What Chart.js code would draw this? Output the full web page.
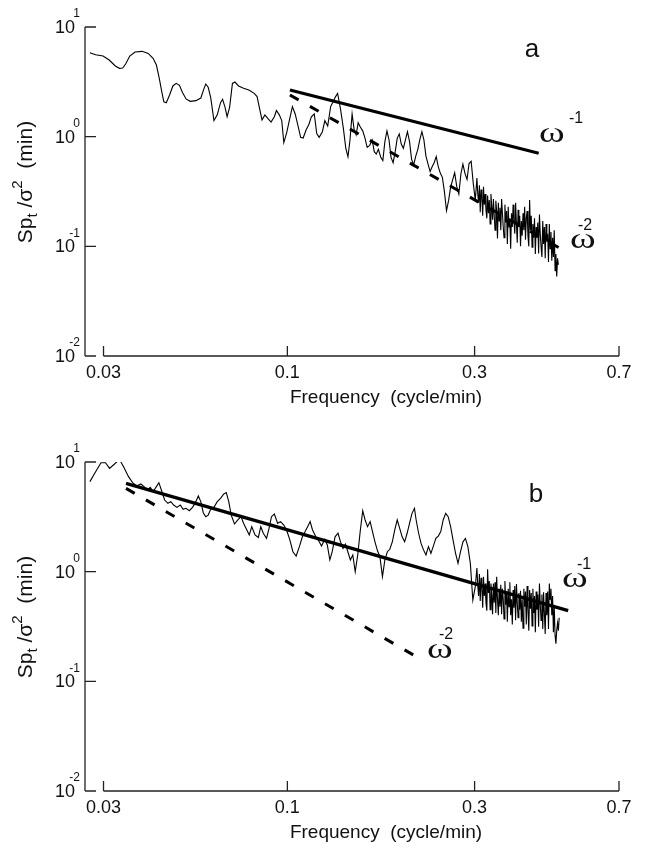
<!DOCTYPE html>
<html>
<head>
<meta charset="utf-8">
<script src="https://cdn.jsdelivr.net/npm/chart.js@4.4.0/dist/chart.umd.min.js"></script>
<style>
  html, body { margin: 0; padding: 0; background: #fff; overflow: hidden; }
  #wrap { position: relative; width: 645px; height: 848px; }
  canvas { position: absolute; left: 0; }
  #chartA { top: 0; }
  #chartB { top: 435px; }
</style>
</head>
<body>
<div id="wrap">
  <canvas id="chartA" width="645" height="424"></canvas>
  <canvas id="chartB" width="645" height="424"></canvas>
</div>
<script>
// tick values (x ticks are rounded to 2 decimals when shown)
const freqTicks = [0.034, 0.1, 0.3, 0.7];
const specTicks = [10, 1, 0.1, 0.01];
const specTickExp = ['1', '0', '-1', '-2'];

// panel a: spectrum
const freqA = [
  0.03139, 0.03246, 0.03391, 0.03515, 0.03644, 0.03733, 0.03805, 0.03871, 0.03966, 0.04092,
  0.04263, 0.04419, 0.04548, 0.04637, 0.04716, 0.04785, 0.04844, 0.04914, 0.05010, 0.05108,
  0.05208, 0.05309, 0.05400, 0.05519, 0.05654, 0.05847, 0.06019, 0.06121, 0.06194, 0.06284,
  0.06376, 0.06500, 0.06627, 0.06756, 0.06838, 0.06938, 0.07022, 0.07125, 0.07244, 0.07350,
  0.07511, 0.07732, 0.07977, 0.08231, 0.08372, 0.08493, 0.08617, 0.08765, 0.08914, 0.09088,
  0.09264, 0.09378, 0.09537, 0.09676, 0.09793, 0.09961, 0.1013, 0.1030, 0.1047, 0.1063,
  0.1081, 0.1097, 0.1116, 0.1135, 0.1151, 0.1171, 0.1188, 0.1205, 0.1228, 0.1246,
  0.1267, 0.1289, 0.1308, 0.1327, 0.1343, 0.1366, 0.1389, 0.1409, 0.1427, 0.1444,
  0.1462, 0.1479, 0.1497, 0.1515, 0.1533, 0.1556, 0.1575, 0.1597, 0.1621, 0.1645,
  0.1665, 0.1685, 0.1706, 0.1730, 0.1751, 0.1772, 0.1794, 0.1816, 0.1837, 0.1860,
  0.1883, 0.1905, 0.1928, 0.1951, 0.1975, 0.1999, 0.2023, 0.2048, 0.2073, 0.2098,
  0.2124, 0.2150, 0.2176, 0.2202, 0.2228, 0.2255, 0.2283, 0.2311, 0.2338, 0.2366,
  0.2395, 0.2424, 0.2454, 0.2483, 0.2513, 0.2544, 0.2575, 0.2606, 0.2637, 0.2669,
  0.2702, 0.2735, 0.2768, 0.2801, 0.2835, 0.2870, 0.2904, 0.2940, 0.2975, 0.3012,
  0.3041, 0.3056, 0.3071, 0.3086, 0.3101, 0.3116, 0.3131, 0.3146, 0.3161, 0.3176,
  0.3192, 0.3207, 0.3223, 0.3238, 0.3254, 0.3270, 0.3286, 0.3302, 0.3318, 0.3334,
  0.3350, 0.3366, 0.3382, 0.3398, 0.3415, 0.3431, 0.3448, 0.3465, 0.3482, 0.3498,
  0.3515, 0.3532, 0.3549, 0.3566, 0.3584, 0.3601, 0.3619, 0.3636, 0.3654, 0.3671,
  0.3689, 0.3707, 0.3725, 0.3743, 0.3761, 0.3779, 0.3798, 0.3816, 0.3835, 0.3853,
  0.3872, 0.3890, 0.3909, 0.3928, 0.3947, 0.3966, 0.3986, 0.4005, 0.4024, 0.4044,
  0.4063, 0.4083, 0.4103, 0.4123, 0.4143, 0.4163, 0.4183, 0.4203, 0.4223, 0.4244,
  0.4264, 0.4285, 0.4305, 0.4326, 0.4347, 0.4368, 0.4389, 0.4410, 0.4432, 0.4453,
  0.4475, 0.4496, 0.4518, 0.4540, 0.4562, 0.4584, 0.4606, 0.4628, 0.4651, 0.4673,
  0.4696, 0.4719, 0.4741, 0.4764, 0.4787, 0.4811, 0.4834, 0.4857, 0.4881, 0.4905
];
const spectrumA = [
  5.83, 5.59, 5.44, 5.00, 4.41, 4.20, 4.23, 4.60, 5.44, 5.92,
  6.00, 5.75, 5.18, 4.50, 3.40, 2.57, 2.08, 2.04, 2.40, 2.90,
  3.06, 2.94, 2.54, 2.21, 2.10, 2.13, 2.25, 2.70, 3.02, 2.82,
  2.28, 1.40, 1.58, 2.04, 2.19, 1.85, 1.52, 1.85, 3.06, 3.15,
  2.90, 2.76, 2.66, 2.48, 2.32, 1.81, 1.42, 1.58, 1.47, 1.36,
  1.52, 1.73, 1.58, 1.40, 0.882, 1.09, 1.44, 1.88, 1.61, 1.28,
  0.986, 0.972, 1.15, 1.30, 1.52, 1.61, 1.07, 0.986, 1.11, 1.40,
  1.25, 1.88, 2.08, 2.32, 2.48, 1.78, 1.19, 0.783, 0.657, 0.933,
  1.61, 1.17, 1.04, 1.34, 1.23, 1.13, 0.986, 0.799, 0.834, 0.933,
  0.730, 0.695, 0.766, 0.648, 0.604, 0.900, 1.13, 0.933, 0.648, 0.579,
  0.730, 0.966, 1.06, 0.857, 0.783, 0.933, 1.11, 0.900, 0.621, 0.552,
  0.666, 0.766, 0.946, 1.11, 0.933, 0.666, 0.563, 0.480, 0.532, 0.579,
  0.657, 0.532, 0.463, 0.426, 0.315, 0.211, 0.261, 0.345, 0.403, 0.469,
  0.350, 0.300, 0.457, 0.563, 0.463, 0.408, 0.569, 0.596, 0.381, 0.264,
  0.420, 0.300, 0.250, 0.360, 0.205, 0.330, 0.280, 0.190, 0.350, 0.240,
  0.300, 0.215, 0.180, 0.290, 0.200, 0.265, 0.160, 0.300, 0.230, 0.175,
  0.270, 0.190, 0.140, 0.260, 0.210, 0.118, 0.250, 0.170, 0.225, 0.140,
  0.270, 0.200, 0.150, 0.120, 0.240, 0.165, 0.210, 0.105, 0.230, 0.150,
  0.180, 0.095, 0.200, 0.150, 0.240, 0.170, 0.130, 0.250, 0.160, 0.108,
  0.215, 0.150, 0.190, 0.100, 0.170, 0.125, 0.200, 0.140, 0.230, 0.115,
  0.180, 0.210, 0.125, 0.100, 0.265, 0.140, 0.190, 0.098, 0.160, 0.120,
  0.180, 0.085, 0.150, 0.120, 0.165, 0.086, 0.195, 0.130, 0.098, 0.080,
  0.170, 0.105, 0.150, 0.078, 0.160, 0.110, 0.130, 0.072, 0.160, 0.095,
  0.135, 0.074, 0.120, 0.080, 0.140, 0.060, 0.085, 0.0530, 0.0777, 0.0680
];
// panel a: reference slopes
const slope1FreqA = [0.1015, 0.437];
const slope1SpecA = [2.66, 0.705];
const slope2FreqA = [0.1015, 0.495];
const slope2SpecA = [2.40, 0.0960];

// panel b: spectrum
const freqB = [
  0.03139, 0.03246, 0.03350, 0.03440, 0.03523, 0.03627, 0.03733, 0.03825, 0.03937, 0.04033,
  0.04131, 0.04232, 0.04314, 0.04398, 0.04473, 0.04549, 0.04637, 0.04705, 0.04774, 0.04867,
  0.04962, 0.05046, 0.05132, 0.05232, 0.05334, 0.05425, 0.05517, 0.05624, 0.05733, 0.05845,
  0.05930, 0.06017, 0.06105, 0.06194, 0.06284, 0.06376, 0.06500, 0.06627, 0.06756, 0.06887,
  0.06988, 0.07090, 0.07193, 0.07333, 0.07476, 0.07622, 0.07732, 0.07883, 0.07997, 0.08114,
  0.08272, 0.08433, 0.08556, 0.08681, 0.08850, 0.08979, 0.09110, 0.09265, 0.09445, 0.09606,
  0.09793, 0.09984, 0.1015, 0.1033, 0.1053, 0.1073, 0.1092, 0.1110, 0.1126, 0.1143,
  0.1159, 0.1182, 0.1202, 0.1222, 0.1246, 0.1264, 0.1283, 0.1301, 0.1323, 0.1346,
  0.1366, 0.1386, 0.1406, 0.1426, 0.1447, 0.1468, 0.1489, 0.1511, 0.1533, 0.1556,
  0.1578, 0.1601, 0.1625, 0.1648, 0.1672, 0.1697, 0.1721, 0.1747, 0.1772, 0.1798,
  0.1824, 0.1851, 0.1878, 0.1905, 0.1933, 0.1961, 0.1990, 0.2019, 0.2048, 0.2078,
  0.2108, 0.2129, 0.2160, 0.2191, 0.2223, 0.2255, 0.2288, 0.2322, 0.2355, 0.2390,
  0.2424, 0.2460, 0.2495, 0.2532, 0.2569, 0.2606, 0.2644, 0.2683, 0.2722, 0.2762,
  0.2802, 0.2843, 0.2884, 0.2926, 0.2969, 0.3012,
  0.3041, 0.3056, 0.3071, 0.3086, 0.3101, 0.3116, 0.3131, 0.3146, 0.3161, 0.3176,
  0.3192, 0.3207, 0.3223, 0.3238, 0.3254, 0.3270, 0.3286, 0.3302, 0.3318, 0.3334,
  0.3350, 0.3366, 0.3382, 0.3398, 0.3415, 0.3431, 0.3448, 0.3465, 0.3482, 0.3498,
  0.3515, 0.3532, 0.3549, 0.3566, 0.3584, 0.3601, 0.3619, 0.3636, 0.3654, 0.3671,
  0.3689, 0.3707, 0.3725, 0.3743, 0.3761, 0.3779, 0.3798, 0.3816, 0.3835, 0.3853,
  0.3872, 0.3890, 0.3909, 0.3928, 0.3947, 0.3966, 0.3986, 0.4005, 0.4024, 0.4044,
  0.4063, 0.4083, 0.4103, 0.4123, 0.4143, 0.4163, 0.4183, 0.4203, 0.4223, 0.4244,
  0.4264, 0.4285, 0.4305, 0.4326, 0.4347, 0.4368, 0.4389, 0.4410, 0.4432, 0.4453,
  0.4475, 0.4496, 0.4518, 0.4540, 0.4562, 0.4584, 0.4606, 0.4628, 0.4651, 0.4673,
  0.4696, 0.4719, 0.4741, 0.4764, 0.4787, 0.4811, 0.4834, 0.4857, 0.4881, 0.4905, 0.4928
];
const spectrumB = [
  6.62, 8.16, 9.85, 9.85, 8.75, 9.59, 10.55, 9.07, 7.35, 6.48,
  6.04, 6.30, 5.96, 5.56, 5.88, 5.37, 5.96, 6.48, 5.56, 4.50,
  4.20, 4.35, 4.05, 3.86, 4.05, 3.70, 3.78, 3.60, 3.86, 4.35,
  4.90, 4.35, 3.45, 3.17, 3.28, 3.70, 3.86, 4.35, 4.66, 5.11,
  5.26, 4.35, 3.28, 2.72, 2.96, 3.17, 2.76, 2.40, 2.16, 2.57,
  2.16, 2.05, 2.57, 2.24, 2.01, 2.48, 3.17, 3.35, 2.76, 2.86,
  2.66, 2.32, 1.94, 1.52, 1.39, 1.69, 2.08, 2.32, 2.57, 2.86,
  2.40, 2.08, 1.91, 1.71, 1.97, 1.75, 1.28, 1.52, 2.08, 2.24,
  1.87, 1.63, 1.78, 1.52, 1.28, 1.42, 0.999, 1.42, 2.32, 3.60,
  2.96, 2.57, 2.86, 2.32, 1.87, 1.55, 1.37, 0.900, 1.28, 1.52,
  1.60, 1.87, 2.40, 2.96, 2.48, 2.08, 1.87, 2.24, 2.76, 3.40,
  3.78, 2.96, 2.24, 1.81, 1.58, 1.42, 1.69, 1.47, 1.71, 2.01,
  2.11, 2.32, 2.96, 3.40, 3.17, 2.57, 1.94, 1.47, 1.19, 1.52,
  1.87, 2.01, 1.69, 1.19, 0.551, 0.730,
  1.08, 0.750, 0.600, 0.950, 0.540, 0.880, 0.700, 0.470, 0.900, 0.600,
  0.780, 0.520, 0.440, 1.05, 0.640, 0.820, 0.450, 0.780, 0.600, 0.410,
  0.780, 0.520, 0.800, 0.420, 0.900, 0.560, 0.400, 0.700, 0.480, 0.760,
  0.410, 0.700, 0.560, 0.370, 0.820, 0.500, 0.660, 0.350, 0.700, 0.480,
  0.800, 0.400, 0.560, 0.330, 0.680, 0.470, 0.740, 0.360, 0.770, 0.520,
  0.380, 0.640, 0.450, 0.670, 0.350, 0.560, 0.305, 0.700, 0.480, 0.660,
  0.330, 0.740, 0.450, 0.290, 0.680, 0.460, 0.640, 0.320, 0.700, 0.420,
  0.600, 0.280, 0.660, 0.450, 0.620, 0.315, 0.780, 0.500, 0.360, 0.620,
  0.300, 0.650, 0.420, 0.270, 0.640, 0.400, 0.660, 0.300, 0.780, 0.560,
  0.700, 0.400, 0.600, 0.280, 0.480, 0.260, 0.220, 0.290, 0.340, 0.290, 0.380
];
// panel b: reference slopes
const slope1FreqB = [0.0388, 0.5195];
const slope1SpecB = [6.38, 0.441];
const slope2FreqB = [0.0388, 0.2129];
const slope2SpecB = [5.75, 0.168];

const SANS = '"Liberation Sans", Arial, Helvetica, sans-serif';
const SERIF = '"Liberation Serif", "Times New Roman", serif';

function pts(xs, ys) {
  return xs.map((x, i) => ({ x: x, y: ys[i] }));
}

function fmtFreq(v) {
  return v < 0.1 ? v.toFixed(2) : String(v);
}

// axes, tick labels, titles and annotations drawn on top of the chart area
function axesPlugin(notes) {
  return {
    id: 'axes' + notes.letter,
    afterDraw(chart) {
      const ctx = chart.ctx;
      const xs = chart.scales.x, ys = chart.scales.y;
      const x0 = xs.left;
      const yTop = ys.getPixelForValue(specTicks[0]);
      const yBot = ys.getPixelForValue(specTicks[specTicks.length - 1]);
      ctx.save();
      ctx.strokeStyle = '#222';
      ctx.lineWidth = 1.3;
      ctx.beginPath();
      ctx.moveTo(x0, yTop);
      ctx.lineTo(x0, yBot);
      specTicks.forEach(v => {
        const y = ys.getPixelForValue(v);
        ctx.moveTo(x0, y);
        ctx.lineTo(x0 + 11, y);
      });
      const xa = xs.getPixelForValue(freqTicks[0]);
      const xb = xs.getPixelForValue(freqTicks[freqTicks.length - 1]);
      ctx.moveTo(xa, yBot);
      ctx.lineTo(xb, yBot);
      freqTicks.forEach(v => {
        const x = xs.getPixelForValue(v);
        ctx.moveTo(x, yBot);
        ctx.lineTo(x, yBot - 10);
      });
      ctx.stroke();

      ctx.fillStyle = '#111';
      // y tick labels 10^n
      ctx.textAlign = 'right';
      ctx.textBaseline = 'middle';
      specTicks.forEach((v, i) => {
        const y = ys.getPixelForValue(v);
        ctx.font = '18px ' + SANS;
        ctx.fillText('10', x0 - 10, y + 1);
        ctx.font = '12px ' + SANS;
        ctx.fillText(specTickExp[i], x0 - 5, y - 13);
      });
      // x tick labels
      ctx.textAlign = 'center';
      ctx.font = '18px ' + SANS;
      freqTicks.forEach(v => {
        ctx.fillText(fmtFreq(v), xs.getPixelForValue(v), yBot + 17);
      });
      // x title
      ctx.font = '19px ' + SANS;
      ctx.fillText('Frequency  (cycle/min)', 386, yBot + 42);

      // y title with sub/superscripts
      const big = '21px ' + SANS, small = '15px ' + SANS;
      const parts = [['Sp', big, 0], ['t', small, 5], [' /', big, 0], ['\u03c3', big, 0], ['2', small, -10], ['  (min)', big, 0]];
      ctx.save();
      ctx.translate(32, 182);
      ctx.rotate(-Math.PI / 2);
      ctx.textAlign = 'left';
      ctx.textBaseline = 'alphabetic';
      let w = 0;
      parts.forEach(p => { ctx.font = p[1]; w += ctx.measureText(p[0]).width; });
      let tx = -w / 2;
      parts.forEach(p => {
        ctx.font = p[1];
        ctx.fillText(p[0], tx, p[2]);
        tx += ctx.measureText(p[0]).width;
      });
      ctx.restore();

      // panel letter
      ctx.textAlign = 'center';
      ctx.textBaseline = 'alphabetic';
      ctx.font = '26px ' + SANS;
      ctx.fillText(notes.letter, notes.letterPos[0], notes.letterPos[1]);
      // omega labels (wide serif omega)
      ctx.textAlign = 'left';
      notes.omegas.forEach(o => {
        ctx.save();
        ctx.translate(o.w[0], o.w[1]);
        ctx.scale(1.3, 1);
        ctx.font = '30px ' + SERIF;
        ctx.fillText('\u03c9', 0, 0);
        ctx.restore();
        ctx.font = '16px ' + SANS;
        ctx.fillText(o.exp, o.e[0], o.e[1]);
      });
      ctx.restore();
    }
  };
}

function makePanel(id, spectrum, slope1, slope2, notes) {
  return new Chart(document.getElementById(id), {
    type: 'line',
    data: {
      datasets: [
        { data: slope1, borderColor: '#000', borderWidth: 3.2, pointRadius: 0 },
        { data: slope2, borderColor: '#000', borderWidth: 3, borderDash: [10, 13], pointRadius: 0 },
        { data: spectrum, borderColor: '#000', borderWidth: 1.1, pointRadius: 0 }
      ]
    },
    options: {
      responsive: false,
      animation: false,
      devicePixelRatio: 1,
      layout: { padding: { left: 85, right: 26, top: 27, bottom: 68 } },
      elements: { line: { tension: 0 } },
      plugins: { legend: { display: false }, tooltip: { enabled: false } },
      scales: {
        x: { type: 'logarithmic', min: 0.0305, max: 0.7, display: false },
        y: { type: 'logarithmic', min: 0.01, max: 10, display: false }
      }
    },
    plugins: [axesPlugin(notes)]
  });
}

makePanel('chartA',
  pts(freqA, spectrumA),
  pts(slope1FreqA, slope1SpecA),
  pts(slope2FreqA, slope2SpecA),
  { letter: 'a', letterPos: [532, 57],
    omegas: [{ exp: '-1', w: [539, 142], e: [569, 123] }, { exp: '-2', w: [570, 248], e: [578, 230] }] });

makePanel('chartB',
  pts(freqB, spectrumB),
  pts(slope1FreqB, slope1SpecB),
  pts(slope2FreqB, slope2SpecB),
  { letter: 'b', letterPos: [536, 67],
    omegas: [{ exp: '-1', w: [562, 152], e: [577, 134] }, { exp: '-2', w: [427, 223], e: [439, 204] }] });
</script>
</body>
</html>
